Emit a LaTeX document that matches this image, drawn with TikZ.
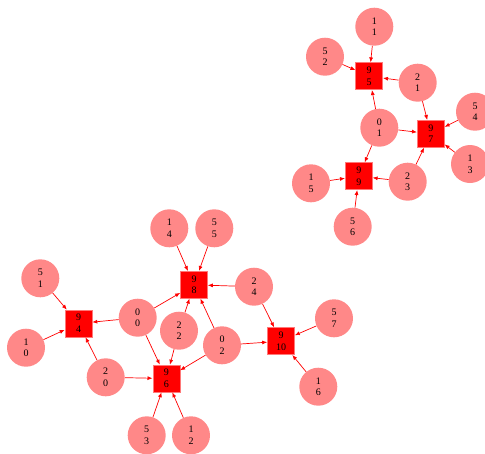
\documentclass[tikz,border=0pt]{standalone}
\usepackage{fontspec}
\setmainfont{Liberation Serif}
\usetikzlibrary{arrows.meta}
\definecolor{circfill}{RGB}{255,136,136}
\definecolor{sqborder}{RGB}{255,120,120}
\begin{document}
\begin{tikzpicture}[x=1pt,y=-1pt,
  circ/.style={circle,fill=circfill,draw=none,minimum size=38pt,inner sep=0pt,align=center,font=\fontsize{10}{11.7}\selectfont},
  sq/.style={rectangle,fill=red,draw=sqborder,line width=0.6pt,minimum size=27pt,inner sep=0pt,align=center,font=\fontsize{10}{11.7}\selectfont},
  edge/.style={draw=red,line width=0.7pt,-{Latex[length=5pt,width=4pt]}}]
\useasboundingbox (0,0) rectangle (485,453);
% top cluster
\node[circ] (c11) at (374.3,26.7) {1\\1};
\node[circ] (c52) at (325,56.7) {5\\2};
\node[sq] (s95) at (369.2,76.2) {9\\5};
\node[circ] (c21) at (417.7,82.7) {2\\1};
\node[circ] (c54) at (475,111.7) {5\\4};
\node[circ] (c01) at (379.3,127.7) {0\\1};
\node[sq] (s97) at (430.8,133.8) {9\\7};
\node[circ] (c13) at (470,164) {1\\3};
\node[sq] (s99) at (358.8,176.2) {9\\9};
\node[circ] (c15) at (311,183.3) {1\\5};
\node[circ] (c23) at (407.7,181.7) {2\\3};
\node[circ] (c56) at (352.7,226.7) {5\\6};
% bottom cluster
\node[circ] (c14) at (169.3,228.3) {1\\4};
\node[circ] (c55) at (214.3,228.3) {5\\5};
\node[sq] (s98) at (194,284.8) {9\\8};
\node[circ] (c51) at (40.3,278.3) {5\\1};
\node[sq] (s94) at (78.5,323.5) {9\\4};
\node[circ] (c00) at (137.7,317.7) {0\\0};
\node[circ] (c22) at (179,330.7) {2\\2};
\node[circ] (c02) at (222,345.3) {0\\2};
\node[circ] (c10) at (26,347.7) {1\\0};
\node[circ] (c20) at (105.7,377.3) {2\\0};
\node[sq] (s96) at (166.3,378.5) {9\\6};
\node[circ] (c53) at (146.7,435.3) {5\\3};
\node[circ] (c12) at (191,435.3) {1\\2};
\node[circ] (c24) at (254,286.7) {2\\4};
\node[sq] (s910) at (281,341.2) {9\\10};
\node[circ] (c57) at (334,318.3) {5\\7};
\node[circ] (c16) at (318.3,386.7) {1\\6};
% edges
\foreach \a/\b in {c11/s95,c52/s95,c21/s95,c01/s95,
  c21/s97,c01/s97,c54/s97,c13/s97,c23/s97,
  c01/s99,c15/s99,c23/s99,c56/s99,
  c14/s98,c55/s98,c00/s98,c22/s98,c02/s98,c24/s98,
  c51/s94,c10/s94,c00/s94,c20/s94,
  c00/s96,c20/s96,c22/s96,c02/s96,c53/s96,c12/s96,
  c24/s910,c02/s910,c57/s910,c16/s910}
  \draw[edge] (\a) -- (\b);
\end{tikzpicture}
\end{document}
